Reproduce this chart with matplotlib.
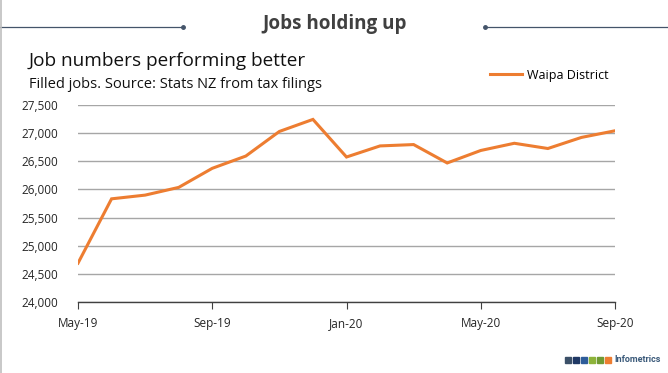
import numpy as np
import matplotlib
matplotlib.use('Agg')
import matplotlib.pyplot as plt
from matplotlib.patches import Rectangle
from matplotlib.lines import Line2D

plt.rcParams['font.family'] = ['Open Sans', 'DejaVu Sans']

# Filled jobs, Waipa District (monthly)
months = ['May-19', 'Jun-19', 'Jul-19', 'Aug-19', 'Sep-19', 'Oct-19',
          'Nov-19', 'Dec-19', 'Jan-20', 'Feb-20', 'Mar-20', 'Apr-20',
          'May-20', 'Jun-20', 'Jul-20', 'Aug-20', 'Sep-20']
jobs = [24690, 25833, 25899, 26036, 26375, 26593, 27030, 27244, 26576,
        26773, 26797, 26470, 26692, 26820, 26727, 26924, 27042]
yticks = [24000, 24500, 25000, 25500, 26000, 26500, 27000, 27500]

W, H = 668, 373
fig = plt.figure(figsize=(W / 100, H / 100), dpi=100)
fig.patch.set_facecolor('white')


def fx(px):
    return px / W


def fy(py):
    return 1 - py / H


# header band
hdr = '#44546A'
fig.add_artist(Line2D([0, fx(183)], [fy(27), fy(27)], color=hdr, lw=0.9))
fig.add_artist(Line2D([fx(485), 1], [fy(27), fy(27)], color=hdr, lw=0.9))
fig.add_artist(Line2D([fx(183)], [fy(27)], marker='o', ms=2.5, color=hdr))
fig.add_artist(Line2D([fx(485)], [fy(27)], marker='o', ms=2.5, color=hdr))
fig.text(fx(334.5), fy(23.5), 'Jobs holding up', ha='center', va='center',
         fontsize=13.6, fontweight='bold', color='#404040')

# left border
fig.add_artist(Line2D([fx(1), fx(1)], [0, 1], color='#BFBFBF', lw=1.2))

fig.text(fx(29), fy(61), 'Job numbers performing better', ha='left',
         va='center', fontsize=13.7, color='#111111')
fig.text(fx(29), fy(85), 'Filled jobs. Source: Stats NZ from tax filings',
         ha='left', va='center', fontsize=10.5, color='#111111')

ax = fig.add_axes([fx(78), fy(302), fx(615) - fx(78), fy(105) - fy(302)])
x = np.arange(len(months))
ax.plot(x, jobs, color='#ED7D31', lw=2.2, label='Waipa District',
        solid_joinstyle='miter')

ax.set_xlim(0, len(months) - 1)
ax.set_ylim(24000, 27500)
ax.set_yticks(yticks)
ax.set_yticklabels([f'{v:,}' for v in yticks])
ax.set_xticks(x[::4])
ax.set_xticklabels(months[::4])
ax.grid(axis='y', color='#A6A6A6', lw=1)
ax.set_axisbelow(True)
for s in ['top', 'right', 'left']:
    ax.spines[s].set_visible(False)
ax.spines['bottom'].set_color('#404040')
ax.spines['bottom'].set_linewidth(1)
ax.tick_params(axis='y', length=0, pad=14, labelsize=8.5, labelcolor='#262626')
ax.tick_params(axis='x', length=5, direction='out', color='#404040',
               pad=6, labelsize=8.5, labelcolor='#262626')

fig.legend(handles=[Line2D([], [], color='#ED7D31', lw=2.2)],
           labels=['Waipa District'], loc='center left',
           bbox_to_anchor=(fx(479), fy(75)), frameon=False, fontsize=9,
           handlelength=2.5, handletextpad=0.45)

# logo
sq_cols = ['#3B5068', '#1F3864', '#2E5C9A', '#8DB33A', '#6F9A33', '#ED7D31']
for i, c in enumerate(sq_cols):
    fig.add_artist(Rectangle((fx(565 + 8 * i), fy(363)), fx(6), fy(357) - fy(363),
                             color=c, transform=fig.transFigure))
fig.text(fx(614), fy(359.5), 'Infometrics', ha='left', va='center',
         fontsize=6.5, fontweight='bold', color='#3B5A7A',
         family=['Roboto', 'DejaVu Sans'])

fig.savefig('out.png', dpi=100)
